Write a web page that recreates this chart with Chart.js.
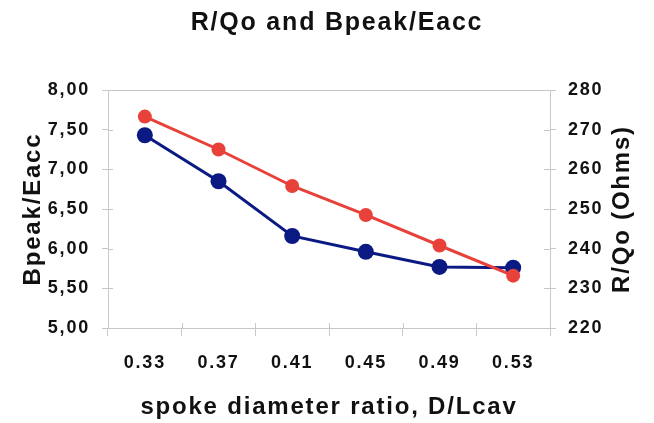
<!DOCTYPE html>
<html>
<head>
<meta charset="utf-8">
<script src="https://cdn.jsdelivr.net/npm/chart.js@4/dist/chart.umd.min.js"></script>
<style>
html,body{margin:0;padding:0;background:#fff;}
#wrap{width:654px;height:423px;}
</style>
</head>
<body>
<div id="wrap"><canvas id="c" width="654" height="423"></canvas></div>
<script>
const categories = ['0.33', '0.37', '0.41', '0.45', '0.49', '0.53'];
const bpeakEacc = [7.43, 6.85, 6.16, 5.96, 5.77, 5.76];
const rOverQ = [273.3, 265.0, 255.8, 248.5, 240.8, 233.2];
const leftTicks = [5.0, 5.5, 6.0, 6.5, 7.0, 7.5, 8.0];
const rightTicks = [220, 230, 240, 250, 260, 270, 280];
const rightTitle = 'R/Qo (Ohms)';

const FONT = "'Liberation Sans', Arial, sans-serif";
const LS = '1.8px';
const AXIS_GREY = '#c8c8c8';
const TEXT = '#111';

const decoPlugin = {
  id: 'deco',
  beforeLayout(chart) { chart.ctx.letterSpacing = LS; },
  beforeDraw(chart) { chart.ctx.letterSpacing = LS; },
  beforeDatasetsDraw(chart) {
    const {ctx, chartArea: a, scales} = chart;
    ctx.save();
    ctx.strokeStyle = AXIS_GREY;
    ctx.lineWidth = 1;
    ctx.beginPath();
    ctx.moveTo(a.left, a.top + 0.5);
    ctx.lineTo(a.right, a.top + 0.5);
    scales.y.ticks.forEach(t => {
      const py = Math.round(scales.y.getPixelForValue(t.value)) + 0.5;
      ctx.moveTo(a.left, py); ctx.lineTo(a.left + 5, py);
    });
    scales.y2.ticks.forEach(t => {
      const py = Math.round(scales.y2.getPixelForValue(t.value)) + 0.5;
      ctx.moveTo(a.right, py); ctx.lineTo(a.right - 6, py);
    });
    const n = categories.length;
    for (let i = 1; i < n; i++) {
      const px = Math.round((scales.x.getPixelForValue(i - 1) + scales.x.getPixelForValue(i)) / 2) + 0.5;
      ctx.moveTo(px, a.bottom); ctx.lineTo(px, a.bottom - 5);
    }
    ctx.stroke();
    ctx.restore();
  },
  afterDraw(chart) {
    const {ctx, chartArea: a} = chart;
    const s = chart.scales.y2;
    const t = s.options.title;
    ctx.save();
    ctx.letterSpacing = LS;
    ctx.font = 'bold ' + t.font.size + 'px ' + FONT;
    ctx.fillStyle = TEXT;
    ctx.textAlign = 'center';
    ctx.textBaseline = 'middle';
    ctx.translate(s.right - t.padding.top - t.font.size / 2, (a.top + a.bottom) / 2);
    ctx.rotate(-Math.PI / 2);
    ctx.fillText(rightTitle, 0, 0);
    ctx.restore();
  }
};

new Chart(document.getElementById('c'), {
  type: 'line',
  data: {
    labels: categories,
    datasets: [
      {
        label: 'R/Qo (Ohms)',
        data: rOverQ,
        yAxisID: 'y2',
        borderColor: '#e8413a',
        backgroundColor: '#e8413a',
        borderWidth: 3,
        pointRadius: 7,
        pointHoverRadius: 7,
        pointBorderWidth: 0,
        tension: 0
      },
      {
        label: 'Bpeak/Eacc',
        data: bpeakEacc,
        yAxisID: 'y',
        borderColor: '#0b1a82',
        backgroundColor: '#0b1a82',
        borderWidth: 3,
        pointRadius: 8,
        pointHoverRadius: 8,
        pointBorderWidth: 0,
        tension: 0
      }
    ]
  },
  options: {
    responsive: false,
    animation: false,
    devicePixelRatio: 1,
    layout: { padding: { left: 20, right: 0, top: 8, bottom: 1 } },
    plugins: {
      legend: { display: false },
      tooltip: { enabled: false },
      title: {
        display: true,
        text: 'R/Qo and Bpeak/Eacc',
        color: TEXT,
        font: { family: FONT, size: 25, weight: 'bold' },
        padding: { top: 0, bottom: 52 }
      }
    },
    scales: {
      x: {
        type: 'category',
        offset: true,
        afterFit(scale) { scale.height = 94; },
        grid: { offset: true, drawOnChartArea: false, color: AXIS_GREY, tickLength: 8 },
        border: { color: AXIS_GREY },
        ticks: { color: TEXT, font: { family: FONT, size: 18, weight: 'bold' }, padding: 16 },
        title: {
          display: true,
          text: 'spoke diameter ratio, D/Lcav',
          color: TEXT,
          font: { family: FONT, size: 24, weight: 'bold' },
          padding: { top: 14, bottom: 0 }
        }
      },
      y: {
        position: 'left',
        min: 5, max: 8,
        afterFit(scale) { scale.width = 88; },
        afterBuildTicks(scale) { scale.ticks = leftTicks.map(v => ({ value: v })); },
        grid: { drawOnChartArea: false, color: AXIS_GREY, tickLength: 6 },
        border: { color: AXIS_GREY },
        ticks: {
          color: TEXT,
          font: { family: FONT, size: 18, weight: 'bold' },
          padding: 12,
          callback: v => v.toFixed(2).replace('.', ',')
        },
        title: {
          display: true,
          text: 'Bpeak/Eacc',
          color: TEXT,
          font: { family: FONT, size: 24, weight: 'bold', lineHeight: 1 },
          padding: { top: 1, bottom: 3 }
        }
      },
      y2: {
        position: 'right',
        min: 220, max: 280,
        afterFit(scale) { scale.width = 104; },
        afterBuildTicks(scale) { scale.ticks = rightTicks.map(v => ({ value: v })); },
        grid: { drawOnChartArea: false, color: AXIS_GREY, tickLength: 6 },
        border: { color: AXIS_GREY },
        ticks: {
          color: TEXT,
          font: { family: FONT, size: 18, weight: 'bold' },
          padding: 12,
          callback: v => String(v)
        },
        title: {
          display: true,
          text: rightTitle,
          color: 'rgba(0,0,0,0)',
          font: { family: FONT, size: 24, weight: 'bold', lineHeight: 1 },
          padding: { top: 20, bottom: 8 }
        }
      }
    }
  },
  plugins: [decoPlugin]
});
</script>
</body>
</html>
